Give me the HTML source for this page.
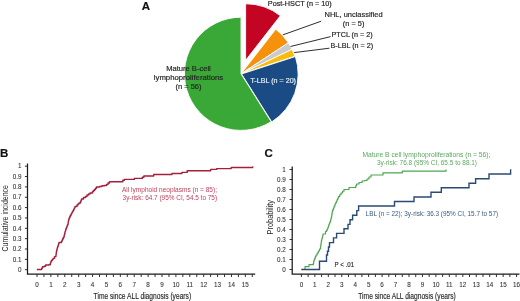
<!DOCTYPE html>
<html><head><meta charset="utf-8"><style>
html,body{margin:0;padding:0;background:#fff;}
svg{display:block;font-family:"Liberation Sans", sans-serif;}
svg{will-change:transform;}
</style></head><body>
<svg width="520" height="301" viewBox="0 0 520 301" font-family='"Liberation Sans", sans-serif'>
<path d="M245.61,60.37 L245.61,3.77 A56.6,56.6 0 0 1 280.38,15.70 Z" fill="#c30523" stroke="#fff" stroke-width="0.9" stroke-linejoin="round"/>
<path d="M241.00,73.80 L275.76,29.13 A56.6,56.6 0 0 1 288.38,42.84 Z" fill="#f5910a" stroke="#fff" stroke-width="0.9" stroke-linejoin="round"/>
<path d="M241.00,73.80 L288.38,42.84 A56.6,56.6 0 0 1 292.05,49.36 Z" fill="#c9c9cf" stroke="#fff" stroke-width="0.9" stroke-linejoin="round"/>
<path d="M241.00,73.80 L292.05,49.36 A56.6,56.6 0 0 1 294.83,56.31 Z" fill="#f8bd0c" stroke="#fff" stroke-width="0.9" stroke-linejoin="round"/>
<path d="M241.56,74.00 L295.39,56.51 A56.6,56.6 0 0 1 271.73,121.89 Z" fill="#1a4b85" stroke="#fff" stroke-width="0.9" stroke-linejoin="round"/>
<path d="M241.00,73.80 L271.17,121.69 A56.6,56.6 0 1 1 241.00,17.20 Z" fill="#3aa836" stroke="#fff" stroke-width="0.9" stroke-linejoin="round"/>
<line x1="282.8" y1="34.9" x2="321.2" y2="21.2" stroke="#222" stroke-width="0.95"/>
<line x1="290.5" y1="46.5" x2="330.6" y2="36.6" stroke="#222" stroke-width="0.95"/>
<line x1="294.2" y1="52.6" x2="329.4" y2="48.2" stroke="#222" stroke-width="0.95"/>
<text x="146" y="9.8" font-size="11.5" fill="#111" text-anchor="middle" font-weight="bold" stroke="#111" stroke-width="0.18">A</text>
<text x="267.8" y="5.6" font-size="7.2" fill="#222" text-anchor="start" textLength="64" lengthAdjust="spacingAndGlyphs" stroke="#222" stroke-width="0.18">Post-HSCT (n = 10)</text>
<text x="353.6" y="16.7" font-size="7.2" fill="#262626" text-anchor="middle" textLength="58" lengthAdjust="spacingAndGlyphs" stroke="#262626" stroke-width="0.18">NHL, unclassified</text>
<text x="353.6" y="25.5" font-size="7.2" fill="#262626" text-anchor="middle" textLength="21.5" lengthAdjust="spacingAndGlyphs" stroke="#262626" stroke-width="0.18">(n = 5)</text>
<text x="331.5" y="36.6" font-size="7.2" fill="#262626" text-anchor="start" stroke="#262626" stroke-width="0.18">PTCL (n = 2)</text>
<text x="330.5" y="48.1" font-size="7.2" fill="#262626" text-anchor="start" stroke="#262626" stroke-width="0.18">B-LBL (n = 2)</text>
<text x="188.5" y="70.6" font-size="7.2" fill="#262626" text-anchor="middle" textLength="44.6" lengthAdjust="spacingAndGlyphs" stroke="#262626" stroke-width="0.18">Mature B-cell</text>
<text x="188.5" y="79.5" font-size="7.2" fill="#262626" text-anchor="middle" textLength="69.4" lengthAdjust="spacingAndGlyphs" stroke="#262626" stroke-width="0.18">lymphoproliferations</text>
<text x="188.5" y="88.5" font-size="7.2" fill="#262626" text-anchor="middle" textLength="26" lengthAdjust="spacingAndGlyphs" stroke="#262626" stroke-width="0.18">(n = 56)</text>
<text x="250.4" y="82.7" font-size="7.2" fill="#e6edf5" text-anchor="start" textLength="45.6" lengthAdjust="spacingAndGlyphs" stroke="#e6edf5" stroke-width="0.18">T-LBL (n = 20)</text>
<path d="M27.5,163.5 V274.2 H255.2" fill="none" stroke="#1a1a1a" stroke-width="1.25"/>
<line x1="24.9" y1="269.70" x2="27.5" y2="269.70" stroke="#1a1a1a" stroke-width="0.9"/>
<text x="21.6" y="271.90" font-size="6.3" fill="#333" text-anchor="end" stroke="#333" stroke-width="0.08">0</text>
<line x1="24.9" y1="259.35" x2="27.5" y2="259.35" stroke="#1a1a1a" stroke-width="0.9"/>
<text x="21.6" y="261.55" font-size="6.3" fill="#333" text-anchor="end" stroke="#333" stroke-width="0.08">0.1</text>
<line x1="24.9" y1="249.00" x2="27.5" y2="249.00" stroke="#1a1a1a" stroke-width="0.9"/>
<text x="21.6" y="251.20" font-size="6.3" fill="#333" text-anchor="end" stroke="#333" stroke-width="0.08">0.2</text>
<line x1="24.9" y1="238.65" x2="27.5" y2="238.65" stroke="#1a1a1a" stroke-width="0.9"/>
<text x="21.6" y="240.85" font-size="6.3" fill="#333" text-anchor="end" stroke="#333" stroke-width="0.08">0.3</text>
<line x1="24.9" y1="228.30" x2="27.5" y2="228.30" stroke="#1a1a1a" stroke-width="0.9"/>
<text x="21.6" y="230.50" font-size="6.3" fill="#333" text-anchor="end" stroke="#333" stroke-width="0.08">0.4</text>
<line x1="24.9" y1="217.95" x2="27.5" y2="217.95" stroke="#1a1a1a" stroke-width="0.9"/>
<text x="21.6" y="220.15" font-size="6.3" fill="#333" text-anchor="end" stroke="#333" stroke-width="0.08">0.5</text>
<line x1="24.9" y1="207.60" x2="27.5" y2="207.60" stroke="#1a1a1a" stroke-width="0.9"/>
<text x="21.6" y="209.80" font-size="6.3" fill="#333" text-anchor="end" stroke="#333" stroke-width="0.08">0.6</text>
<line x1="24.9" y1="197.25" x2="27.5" y2="197.25" stroke="#1a1a1a" stroke-width="0.9"/>
<text x="21.6" y="199.45" font-size="6.3" fill="#333" text-anchor="end" stroke="#333" stroke-width="0.08">0.7</text>
<line x1="24.9" y1="186.90" x2="27.5" y2="186.90" stroke="#1a1a1a" stroke-width="0.9"/>
<text x="21.6" y="189.10" font-size="6.3" fill="#333" text-anchor="end" stroke="#333" stroke-width="0.08">0.8</text>
<line x1="24.9" y1="176.55" x2="27.5" y2="176.55" stroke="#1a1a1a" stroke-width="0.9"/>
<text x="21.6" y="178.75" font-size="6.3" fill="#333" text-anchor="end" stroke="#333" stroke-width="0.08">0.9</text>
<line x1="24.9" y1="166.20" x2="27.5" y2="166.20" stroke="#1a1a1a" stroke-width="0.9"/>
<text x="21.6" y="168.40" font-size="6.3" fill="#333" text-anchor="end" stroke="#333" stroke-width="0.08">1</text>
<line x1="37.00" y1="274.2" x2="37.00" y2="277.0" stroke="#1a1a1a" stroke-width="0.9"/>
<text x="37.00" y="286.80" font-size="6.3" fill="#333" text-anchor="middle" stroke="#333" stroke-width="0.08">0</text>
<line x1="43.95" y1="274.2" x2="43.95" y2="277.0" stroke="#1a1a1a" stroke-width="0.9"/>
<line x1="50.89" y1="274.2" x2="50.89" y2="277.0" stroke="#1a1a1a" stroke-width="0.9"/>
<text x="50.89" y="286.80" font-size="6.3" fill="#333" text-anchor="middle" stroke="#333" stroke-width="0.08">1</text>
<line x1="57.84" y1="274.2" x2="57.84" y2="277.0" stroke="#1a1a1a" stroke-width="0.9"/>
<line x1="64.78" y1="274.2" x2="64.78" y2="277.0" stroke="#1a1a1a" stroke-width="0.9"/>
<text x="64.78" y="286.80" font-size="6.3" fill="#333" text-anchor="middle" stroke="#333" stroke-width="0.08">2</text>
<line x1="71.72" y1="274.2" x2="71.72" y2="277.0" stroke="#1a1a1a" stroke-width="0.9"/>
<line x1="78.67" y1="274.2" x2="78.67" y2="277.0" stroke="#1a1a1a" stroke-width="0.9"/>
<text x="78.67" y="286.80" font-size="6.3" fill="#333" text-anchor="middle" stroke="#333" stroke-width="0.08">3</text>
<line x1="85.62" y1="274.2" x2="85.62" y2="277.0" stroke="#1a1a1a" stroke-width="0.9"/>
<line x1="92.56" y1="274.2" x2="92.56" y2="277.0" stroke="#1a1a1a" stroke-width="0.9"/>
<text x="92.56" y="286.80" font-size="6.3" fill="#333" text-anchor="middle" stroke="#333" stroke-width="0.08">4</text>
<line x1="99.50" y1="274.2" x2="99.50" y2="277.0" stroke="#1a1a1a" stroke-width="0.9"/>
<line x1="106.45" y1="274.2" x2="106.45" y2="277.0" stroke="#1a1a1a" stroke-width="0.9"/>
<text x="106.45" y="286.80" font-size="6.3" fill="#333" text-anchor="middle" stroke="#333" stroke-width="0.08">5</text>
<line x1="113.40" y1="274.2" x2="113.40" y2="277.0" stroke="#1a1a1a" stroke-width="0.9"/>
<line x1="120.34" y1="274.2" x2="120.34" y2="277.0" stroke="#1a1a1a" stroke-width="0.9"/>
<text x="120.34" y="286.80" font-size="6.3" fill="#333" text-anchor="middle" stroke="#333" stroke-width="0.08">6</text>
<line x1="127.28" y1="274.2" x2="127.28" y2="277.0" stroke="#1a1a1a" stroke-width="0.9"/>
<line x1="134.23" y1="274.2" x2="134.23" y2="277.0" stroke="#1a1a1a" stroke-width="0.9"/>
<text x="134.23" y="286.80" font-size="6.3" fill="#333" text-anchor="middle" stroke="#333" stroke-width="0.08">7</text>
<line x1="141.18" y1="274.2" x2="141.18" y2="277.0" stroke="#1a1a1a" stroke-width="0.9"/>
<line x1="148.12" y1="274.2" x2="148.12" y2="277.0" stroke="#1a1a1a" stroke-width="0.9"/>
<text x="148.12" y="286.80" font-size="6.3" fill="#333" text-anchor="middle" stroke="#333" stroke-width="0.08">8</text>
<line x1="155.06" y1="274.2" x2="155.06" y2="277.0" stroke="#1a1a1a" stroke-width="0.9"/>
<line x1="162.01" y1="274.2" x2="162.01" y2="277.0" stroke="#1a1a1a" stroke-width="0.9"/>
<text x="162.01" y="286.80" font-size="6.3" fill="#333" text-anchor="middle" stroke="#333" stroke-width="0.08">9</text>
<line x1="168.96" y1="274.2" x2="168.96" y2="277.0" stroke="#1a1a1a" stroke-width="0.9"/>
<line x1="175.90" y1="274.2" x2="175.90" y2="277.0" stroke="#1a1a1a" stroke-width="0.9"/>
<text x="175.90" y="286.80" font-size="6.3" fill="#333" text-anchor="middle" stroke="#333" stroke-width="0.08">10</text>
<line x1="182.84" y1="274.2" x2="182.84" y2="277.0" stroke="#1a1a1a" stroke-width="0.9"/>
<line x1="189.79" y1="274.2" x2="189.79" y2="277.0" stroke="#1a1a1a" stroke-width="0.9"/>
<text x="189.79" y="286.80" font-size="6.3" fill="#333" text-anchor="middle" stroke="#333" stroke-width="0.08">11</text>
<line x1="196.74" y1="274.2" x2="196.74" y2="277.0" stroke="#1a1a1a" stroke-width="0.9"/>
<line x1="203.68" y1="274.2" x2="203.68" y2="277.0" stroke="#1a1a1a" stroke-width="0.9"/>
<text x="203.68" y="286.80" font-size="6.3" fill="#333" text-anchor="middle" stroke="#333" stroke-width="0.08">12</text>
<line x1="210.62" y1="274.2" x2="210.62" y2="277.0" stroke="#1a1a1a" stroke-width="0.9"/>
<line x1="217.57" y1="274.2" x2="217.57" y2="277.0" stroke="#1a1a1a" stroke-width="0.9"/>
<text x="217.57" y="286.80" font-size="6.3" fill="#333" text-anchor="middle" stroke="#333" stroke-width="0.08">13</text>
<line x1="224.52" y1="274.2" x2="224.52" y2="277.0" stroke="#1a1a1a" stroke-width="0.9"/>
<line x1="231.46" y1="274.2" x2="231.46" y2="277.0" stroke="#1a1a1a" stroke-width="0.9"/>
<text x="231.46" y="286.80" font-size="6.3" fill="#333" text-anchor="middle" stroke="#333" stroke-width="0.08">14</text>
<line x1="238.41" y1="274.2" x2="238.41" y2="277.0" stroke="#1a1a1a" stroke-width="0.9"/>
<line x1="245.35" y1="274.2" x2="245.35" y2="277.0" stroke="#1a1a1a" stroke-width="0.9"/>
<text x="245.35" y="286.80" font-size="6.3" fill="#333" text-anchor="middle" stroke="#333" stroke-width="0.08">15</text>
<line x1="252.30" y1="274.2" x2="252.30" y2="277.0" stroke="#1a1a1a" stroke-width="0.9"/>
<text transform="translate(7.8,218.3) rotate(-90)" x="0" y="0" font-size="9.8" fill="#2a2a2a" text-anchor="middle" textLength="66.5" lengthAdjust="spacingAndGlyphs" font-family='"Liberation Sans", sans-serif'>Cumulative incidence</text>
<text x="93.6" y="298.8" font-size="9.5" fill="#2a2a2a" text-anchor="start" textLength="97.5" lengthAdjust="spacingAndGlyphs" stroke="#2a2a2a" stroke-width="0.18">Time since ALL diagnosis (years)</text>
<text x="4.2" y="156.6" font-size="11.5" fill="#111" text-anchor="middle" font-weight="bold" stroke="#111" stroke-width="0.18">B</text>
<polyline points="36.8,269.5 41,269.5 41.7,269.5 41.7,268.15 42.4,268.15 42.4,266.8 44.3,266.8 44.3,266.2 45.6,266.2 45.6,265.0 48.9,265.0 48.9,264.7 50.3,264.7 50.3,263.1 50.75,263.1 50.75,261.95 51.2,261.95 51.2,260.8 52.15,260.8 52.15,259.6 53.1,259.6 53.1,258.4 54.5,258.4 54.5,256.6 55.9,256.6 55.9,255.2 56.07,255.2 56.07,253.97 56.23,253.97 56.23,252.73 56.4,252.73 56.4,251.5 56.7,251.5 56.7,250.23 57.0,250.23 57.0,248.97 57.3,248.97 57.3,247.7 57.67,247.7 57.67,246.63 58.03,246.63 58.03,245.57 58.4,245.57 58.4,244.5 58.7,244.5 58.7,243.5 59.0,243.5 59.0,242.5 61.5,242.5 61.5,241.5 62.0,241.5 62.0,240.25 62.5,240.25 62.5,239.0 63.25,239.0 63.25,237.5 64.0,237.5 64.0,236.0 64.33,236.0 64.33,234.67 64.67,234.67 64.67,233.33 65.0,233.33 65.0,232.0 65.33,232.0 65.33,230.83 65.67,230.83 65.67,229.67 66.0,229.67 66.0,228.5 66.5,228.5 66.5,227.25 67.0,227.25 67.0,226.0 67.5,226.0 67.5,224.75 68.0,224.75 68.0,223.5 68.17,223.5 68.17,222.33 68.33,222.33 68.33,221.17 68.5,221.17 68.5,220.0 69.0,220.0 69.0,218.5 69.5,218.5 69.5,217.0 70.25,217.0 70.25,215.5 71.0,215.5 71.0,214.0 71.67,214.0 71.67,212.83 72.33,212.83 72.33,211.67 73.0,211.67 73.0,210.5 73.67,210.5 73.67,209.17 74.33,209.17 74.33,207.83 75.0,207.83 75.0,206.5 77.0,206.5 77.0,205.0 78.0,205.0 78.0,204.0 79.0,204.0 79.0,203.0 80.5,203.0 80.5,201.5 81.0,201.5 81.0,200.25 81.5,200.25 81.5,199.0 83.5,199.0 83.5,197.5 85.5,197.5 85.5,196.5 87.0,196.5 87.0,195.0 88.5,195.0 88.5,194.0 90.0,194.0 90.0,193.0 92.5,193.0 92.5,191.5 93.5,191.5 93.5,190.5 94.5,190.5 94.5,189.5 95.5,189.5 95.5,188.25 96.5,188.25 96.5,187.0 99.5,187.0 99.5,186.5 102.0,186.5 102.0,185.8 104.5,185.8 104.5,185.5 106.5,185.5 106.5,184.5 108.0,184.5 108.0,183.0 109.5,183.0 109.5,181.8 121.2,181.8 122.8,181.8 122.8,180.3 124.4,180.3 124.4,179.4 132.7,179.4 134.3,179.4 134.3,178.4 140.7,178.4 142.3,178.4 142.3,177.2 143.9,177.2 143.9,176.0 152.7,176 153.7,176.0 153.7,174.5 170.7,174.5 171.9,174.5 171.9,173.5 180.7,173.5 181.9,173.5 181.9,172.4 185.9,172.4 187.2,172.4 187.2,170.7 209.5,170.7 210.7,170.7 210.7,169.4 215.5,169.4 216.7,169.4 216.7,168.6 230,168.6 231.2,168.6 231.2,167.5 252.7,167.5 252.9,166.3" fill="none" stroke="#a3203d" stroke-width="1.4" stroke-linejoin="round"/>
<text x="122" y="192.1" font-size="6.3" fill="#c0425e" text-anchor="start" textLength="95" lengthAdjust="spacingAndGlyphs" stroke="#c0425e" stroke-width="0">All lymphoid neoplasms (n = 85);</text>
<text x="122.6" y="200.1" font-size="6.3" fill="#c0425e" text-anchor="start" textLength="94.5" lengthAdjust="spacingAndGlyphs" stroke="#c0425e" stroke-width="0">3y-risk: 64.7 (95% CI, 54.5 to 75)</text>
<path d="M292.2,166.5 V274.2 H519.5" fill="none" stroke="#1a1a1a" stroke-width="1.25"/>
<line x1="289.59999999999997" y1="269.50" x2="292.2" y2="269.50" stroke="#1a1a1a" stroke-width="0.9"/>
<text x="285.7" y="271.70" font-size="6.3" fill="#333" text-anchor="end" stroke="#333" stroke-width="0.08">0</text>
<line x1="289.59999999999997" y1="259.50" x2="292.2" y2="259.50" stroke="#1a1a1a" stroke-width="0.9"/>
<text x="285.7" y="261.70" font-size="6.3" fill="#333" text-anchor="end" stroke="#333" stroke-width="0.08">0.1</text>
<line x1="289.59999999999997" y1="249.50" x2="292.2" y2="249.50" stroke="#1a1a1a" stroke-width="0.9"/>
<text x="285.7" y="251.70" font-size="6.3" fill="#333" text-anchor="end" stroke="#333" stroke-width="0.08">0.2</text>
<line x1="289.59999999999997" y1="239.50" x2="292.2" y2="239.50" stroke="#1a1a1a" stroke-width="0.9"/>
<text x="285.7" y="241.70" font-size="6.3" fill="#333" text-anchor="end" stroke="#333" stroke-width="0.08">0.3</text>
<line x1="289.59999999999997" y1="229.50" x2="292.2" y2="229.50" stroke="#1a1a1a" stroke-width="0.9"/>
<text x="285.7" y="231.70" font-size="6.3" fill="#333" text-anchor="end" stroke="#333" stroke-width="0.08">0.4</text>
<line x1="289.59999999999997" y1="219.50" x2="292.2" y2="219.50" stroke="#1a1a1a" stroke-width="0.9"/>
<text x="285.7" y="221.70" font-size="6.3" fill="#333" text-anchor="end" stroke="#333" stroke-width="0.08">0.5</text>
<line x1="289.59999999999997" y1="209.50" x2="292.2" y2="209.50" stroke="#1a1a1a" stroke-width="0.9"/>
<text x="285.7" y="211.70" font-size="6.3" fill="#333" text-anchor="end" stroke="#333" stroke-width="0.08">0.6</text>
<line x1="289.59999999999997" y1="199.50" x2="292.2" y2="199.50" stroke="#1a1a1a" stroke-width="0.9"/>
<text x="285.7" y="201.70" font-size="6.3" fill="#333" text-anchor="end" stroke="#333" stroke-width="0.08">0.7</text>
<line x1="289.59999999999997" y1="189.50" x2="292.2" y2="189.50" stroke="#1a1a1a" stroke-width="0.9"/>
<text x="285.7" y="191.70" font-size="6.3" fill="#333" text-anchor="end" stroke="#333" stroke-width="0.08">0.8</text>
<line x1="289.59999999999997" y1="179.50" x2="292.2" y2="179.50" stroke="#1a1a1a" stroke-width="0.9"/>
<text x="285.7" y="181.70" font-size="6.3" fill="#333" text-anchor="end" stroke="#333" stroke-width="0.08">0.9</text>
<line x1="289.59999999999997" y1="169.50" x2="292.2" y2="169.50" stroke="#1a1a1a" stroke-width="0.9"/>
<text x="285.7" y="171.70" font-size="6.3" fill="#333" text-anchor="end" stroke="#333" stroke-width="0.08">1</text>
<line x1="301.40" y1="274.2" x2="301.40" y2="277.0" stroke="#1a1a1a" stroke-width="0.9"/>
<text x="301.40" y="286.80" font-size="6.3" fill="#333" text-anchor="middle" stroke="#333" stroke-width="0.08">0</text>
<line x1="308.12" y1="274.2" x2="308.12" y2="277.0" stroke="#1a1a1a" stroke-width="0.9"/>
<line x1="314.85" y1="274.2" x2="314.85" y2="277.0" stroke="#1a1a1a" stroke-width="0.9"/>
<text x="314.85" y="286.80" font-size="6.3" fill="#333" text-anchor="middle" stroke="#333" stroke-width="0.08">1</text>
<line x1="321.57" y1="274.2" x2="321.57" y2="277.0" stroke="#1a1a1a" stroke-width="0.9"/>
<line x1="328.30" y1="274.2" x2="328.30" y2="277.0" stroke="#1a1a1a" stroke-width="0.9"/>
<text x="328.30" y="286.80" font-size="6.3" fill="#333" text-anchor="middle" stroke="#333" stroke-width="0.08">2</text>
<line x1="335.02" y1="274.2" x2="335.02" y2="277.0" stroke="#1a1a1a" stroke-width="0.9"/>
<line x1="341.75" y1="274.2" x2="341.75" y2="277.0" stroke="#1a1a1a" stroke-width="0.9"/>
<text x="341.75" y="286.80" font-size="6.3" fill="#333" text-anchor="middle" stroke="#333" stroke-width="0.08">3</text>
<line x1="348.47" y1="274.2" x2="348.47" y2="277.0" stroke="#1a1a1a" stroke-width="0.9"/>
<line x1="355.20" y1="274.2" x2="355.20" y2="277.0" stroke="#1a1a1a" stroke-width="0.9"/>
<text x="355.20" y="286.80" font-size="6.3" fill="#333" text-anchor="middle" stroke="#333" stroke-width="0.08">4</text>
<line x1="361.92" y1="274.2" x2="361.92" y2="277.0" stroke="#1a1a1a" stroke-width="0.9"/>
<line x1="368.65" y1="274.2" x2="368.65" y2="277.0" stroke="#1a1a1a" stroke-width="0.9"/>
<text x="368.65" y="286.80" font-size="6.3" fill="#333" text-anchor="middle" stroke="#333" stroke-width="0.08">5</text>
<line x1="375.38" y1="274.2" x2="375.38" y2="277.0" stroke="#1a1a1a" stroke-width="0.9"/>
<line x1="382.10" y1="274.2" x2="382.10" y2="277.0" stroke="#1a1a1a" stroke-width="0.9"/>
<text x="382.10" y="286.80" font-size="6.3" fill="#333" text-anchor="middle" stroke="#333" stroke-width="0.08">6</text>
<line x1="388.82" y1="274.2" x2="388.82" y2="277.0" stroke="#1a1a1a" stroke-width="0.9"/>
<line x1="395.55" y1="274.2" x2="395.55" y2="277.0" stroke="#1a1a1a" stroke-width="0.9"/>
<text x="395.55" y="286.80" font-size="6.3" fill="#333" text-anchor="middle" stroke="#333" stroke-width="0.08">7</text>
<line x1="402.27" y1="274.2" x2="402.27" y2="277.0" stroke="#1a1a1a" stroke-width="0.9"/>
<line x1="409.00" y1="274.2" x2="409.00" y2="277.0" stroke="#1a1a1a" stroke-width="0.9"/>
<text x="409.00" y="286.80" font-size="6.3" fill="#333" text-anchor="middle" stroke="#333" stroke-width="0.08">8</text>
<line x1="415.72" y1="274.2" x2="415.72" y2="277.0" stroke="#1a1a1a" stroke-width="0.9"/>
<line x1="422.45" y1="274.2" x2="422.45" y2="277.0" stroke="#1a1a1a" stroke-width="0.9"/>
<text x="422.45" y="286.80" font-size="6.3" fill="#333" text-anchor="middle" stroke="#333" stroke-width="0.08">9</text>
<line x1="429.17" y1="274.2" x2="429.17" y2="277.0" stroke="#1a1a1a" stroke-width="0.9"/>
<line x1="435.90" y1="274.2" x2="435.90" y2="277.0" stroke="#1a1a1a" stroke-width="0.9"/>
<text x="435.90" y="286.80" font-size="6.3" fill="#333" text-anchor="middle" stroke="#333" stroke-width="0.08">10</text>
<line x1="442.62" y1="274.2" x2="442.62" y2="277.0" stroke="#1a1a1a" stroke-width="0.9"/>
<line x1="449.35" y1="274.2" x2="449.35" y2="277.0" stroke="#1a1a1a" stroke-width="0.9"/>
<text x="449.35" y="286.80" font-size="6.3" fill="#333" text-anchor="middle" stroke="#333" stroke-width="0.08">11</text>
<line x1="456.07" y1="274.2" x2="456.07" y2="277.0" stroke="#1a1a1a" stroke-width="0.9"/>
<line x1="462.80" y1="274.2" x2="462.80" y2="277.0" stroke="#1a1a1a" stroke-width="0.9"/>
<text x="462.80" y="286.80" font-size="6.3" fill="#333" text-anchor="middle" stroke="#333" stroke-width="0.08">12</text>
<line x1="469.52" y1="274.2" x2="469.52" y2="277.0" stroke="#1a1a1a" stroke-width="0.9"/>
<line x1="476.25" y1="274.2" x2="476.25" y2="277.0" stroke="#1a1a1a" stroke-width="0.9"/>
<text x="476.25" y="286.80" font-size="6.3" fill="#333" text-anchor="middle" stroke="#333" stroke-width="0.08">13</text>
<line x1="482.97" y1="274.2" x2="482.97" y2="277.0" stroke="#1a1a1a" stroke-width="0.9"/>
<line x1="489.70" y1="274.2" x2="489.70" y2="277.0" stroke="#1a1a1a" stroke-width="0.9"/>
<text x="489.70" y="286.80" font-size="6.3" fill="#333" text-anchor="middle" stroke="#333" stroke-width="0.08">14</text>
<line x1="496.42" y1="274.2" x2="496.42" y2="277.0" stroke="#1a1a1a" stroke-width="0.9"/>
<line x1="503.15" y1="274.2" x2="503.15" y2="277.0" stroke="#1a1a1a" stroke-width="0.9"/>
<text x="503.15" y="286.80" font-size="6.3" fill="#333" text-anchor="middle" stroke="#333" stroke-width="0.08">15</text>
<line x1="509.88" y1="274.2" x2="509.88" y2="277.0" stroke="#1a1a1a" stroke-width="0.9"/>
<line x1="516.60" y1="274.2" x2="516.60" y2="277.0" stroke="#1a1a1a" stroke-width="0.9"/>
<text x="516.60" y="286.80" font-size="6.3" fill="#333" text-anchor="middle" stroke="#333" stroke-width="0.08">16</text>
<line x1="523.32" y1="274.2" x2="523.32" y2="277.0" stroke="#1a1a1a" stroke-width="0.9"/>
<text transform="translate(272.8,217.2) rotate(-90)" x="0" y="0" font-size="9.8" fill="#2a2a2a" text-anchor="middle" textLength="34.4" lengthAdjust="spacingAndGlyphs" font-family='"Liberation Sans", sans-serif'>Probability</text>
<text x="358.3" y="298.8" font-size="9.5" fill="#2a2a2a" text-anchor="start" textLength="97.5" lengthAdjust="spacingAndGlyphs" stroke="#2a2a2a" stroke-width="0.18">Time since ALL diagnosis (years)</text>
<text x="268.6" y="156.6" font-size="11.5" fill="#111" text-anchor="middle" font-weight="bold" stroke="#111" stroke-width="0.18">C</text>
<polyline points="301.4,269.5 305,269.5 305,266.7 309,266.7 309,264.7 313,264.7 313.33,264.7 313.33,263.13 313.67,263.13 313.67,261.57 314.0,261.57 314.0,260.0 314.67,260.0 314.67,258.33 315.33,258.33 315.33,256.67 316.0,256.67 316.0,255.0 317.17,255.0 317.17,253.0 318.33,253.0 318.33,251.0 319.5,251.0 319.5,249.0 320.5,249.0 320.5,246.5 320.75,246.5 320.75,244.88 321.0,244.88 321.0,243.25 321.25,243.25 321.25,241.62 321.5,241.62 321.5,240.0 322.0,240.0 322.0,238.0 322.5,238.0 322.5,236.0 323.0,236.0 323.0,234.0 325.5,234.0 325.5,231.5 326.5,231.5 326.5,230.0 327.5,230.0 327.5,228.5 328.0,228.5 328.0,227.0 328.5,227.0 328.5,225.5 329.0,225.5 329.0,224.0 329.75,224.0 329.75,222.0 330.5,222.0 330.5,220.0 331.0,220.0 331.0,218.0 331.5,218.0 331.5,216.0 331.83,216.0 331.83,214.0 332.17,214.0 332.17,212.0 332.5,212.0 332.5,210.0 333.33,210.0 333.33,208.0 334.17,208.0 334.17,206.0 335.0,206.0 335.0,204.0 335.75,204.0 335.75,202.5 336.5,202.5 336.5,201.0 337.17,201.0 337.17,199.5 337.83,199.5 337.83,198.0 338.5,198.0 338.5,196.5 339.75,196.5 339.75,194.75 341.0,194.75 341.0,193.0 342.5,193.0 342.5,191.25 344.0,191.25 344.0,189.5 348.5,189.5 349.0,189.5 349.0,187.5 355,187.5 355.75,187.5 355.75,185.75 356.5,185.75 356.5,184.0 359.0,184.0 359.0,182.5 362.0,182.5 362.0,181.0 364.5,181.0 364.5,180.5 367.0,180.5 367.0,179.0 369.0,179.0 369.0,177.0 371.0,177.0 371.0,175.0 383,175 383,172.8 402.3,172.8 402.3,171.2 446,171.2 446,169.6" fill="none" stroke="#4fa354" stroke-width="1.2" stroke-linejoin="round"/>
<polyline points="301.4,269.5 319.5,269.5 319.5,261.3 326.5,261.3 326.5,255 327.5,255 327.5,251.2 328.5,251.2 328.5,247 329.5,247 329.5,242.6 333.5,242.6 333.5,237.9 336.6,237.9 336.6,233.4 344,233.4 344,228.8 348,228.8 348,224.4 350,224.4 350,219.8 352.6,219.8 352.6,215.3 356.8,215.3 356.8,210.6 358.6,210.6 358.6,206 394.5,206 394.5,201.5 414,201.5 414,197 431,197 431,192.3 441.3,192.3 441.3,187.7 469,187.7 469,183.3 475.6,183.3 475.6,178.8 489,178.8 489,174 510.6,174 510.6,169.3" fill="none" stroke="#2b4a72" stroke-width="1.4" stroke-linejoin="miter"/>
<text x="426.4" y="157.2" font-size="6.3" fill="#5aa85e" text-anchor="middle" textLength="128" lengthAdjust="spacingAndGlyphs" stroke="#5aa85e" stroke-width="0">Mature B cell lymphoproliferations (n = 56);</text>
<text x="427" y="164.6" font-size="6.3" fill="#5aa85e" text-anchor="middle" textLength="100" lengthAdjust="spacingAndGlyphs" stroke="#5aa85e" stroke-width="0">3y-risk: 76.8 (95% CI, 65.5 to 88.1)</text>
<text x="365.6" y="216" font-size="6.3" fill="#3a5a84" text-anchor="start" textLength="132.5" lengthAdjust="spacingAndGlyphs" stroke="#3a5a84" stroke-width="0">LBL (n = 22); 3y-risk: 36.3 (95% CI, 15.7 to 57)</text>
<text x="334.6" y="267.1" font-size="6.8" fill="#333" text-anchor="start" textLength="19.5" lengthAdjust="spacingAndGlyphs" stroke="#333" stroke-width="0.18">P &lt; .01</text>
</svg>
</body></html>
